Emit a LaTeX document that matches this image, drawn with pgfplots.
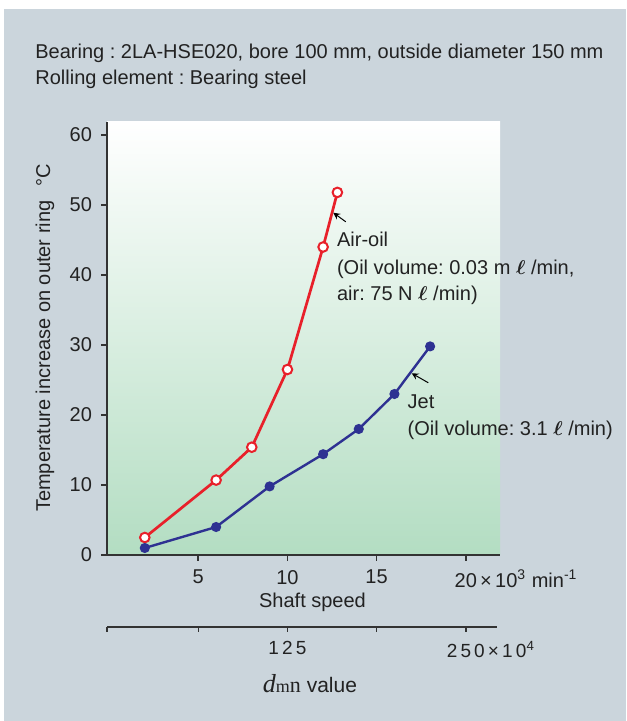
\documentclass[border=0pt]{standalone}
\usepackage{fontspec}
\setmainfont{Liberation Sans}
\newfontfamily\seriffont{Liberation Serif}
\usepackage{pgfplots}
\pgfplotsset{compat=1.18}
\definecolor{bggray}{HTML}{CBD5DC}
\definecolor{gradgreen}{HTML}{B3DDC2}
\definecolor{airred}{HTML}{E8202A}
\definecolor{jetblue}{HTML}{2E3192}
\definecolor{txt}{HTML}{222222}
\definecolor{axisgray}{HTML}{333333}
\frenchspacing
\begin{document}
\fontsize{10pt}{13pt}\selectfont
\begin{tikzpicture}
\path[fill=white] (0pt,0pt) rectangle (313pt,360.5pt);
\fill[bggray] (2pt,0pt) rectangle (313pt,356pt);
\node[anchor=base west, text=txt, inner sep=0pt] at (17.5pt,331pt) {Bearing : 2LA-HSE020, bore 100 mm, outside diameter 150 mm};
\node[anchor=base west, text=txt, inner sep=0pt] at (17.5pt,318pt) {Rolling element : Bearing steel};

\begin{axis}[at={(53.5pt,83pt)}, anchor=south west, scale only axis,
  width=196.5pt, height=216.65pt,
  xmin=-0.12, xmax=21.92, ymin=0, ymax=61.9,
  axis x line*=bottom, axis y line*=left,
  axis line style={-, draw=axisgray, line width=0.8pt},
  tick style={draw=axisgray, line width=0.8pt},
  tick align=outside, major tick length=3pt,
  xtick={5,10,15,20},
  xticklabels={5,10,15,{20\rlap{\,×\,10\textsuperscript{3} min\textsuperscript{-1}}}},
  xticklabel style={yshift=-1pt},
  ytick={0,10,20,30,40,50,60},
  yticklabels={0,10,20,30,40,50,60},
  yticklabel style={xshift=-1pt},
  axis background/.style={top color=white, bottom color=gradgreen},
  clip=false,
  tick label style={font=\fontsize{10pt}{12pt}\selectfont, text=txt},
  /pgf/number format/assume math mode=true]
\addplot[color=airred, line width=1.35pt, mark=*, mark size=2.4pt,
  mark options={fill=white, line width=1pt}]
  coordinates {(2,2.5)(6,10.7)(8,15.4)(10,26.5)(12,44.0)(12.8,51.8)};
\addplot[color=jetblue, line width=1.2pt, mark=*, mark size=1.9pt,
  mark options={fill=jetblue}]
  coordinates {(2,1.0)(6,4.0)(9,9.8)(12,14.4)(14,18.0)(16,23.0)(18,29.8)};
\draw[-stealth, black, line width=0.5pt] (axis cs:13.27,47.6) -- (axis cs:12.57,48.9);
\node[anchor=base west, inner sep=0pt, text=txt] at (axis cs:12.76,44.0) {Air-oil};
\node[anchor=base west, inner sep=0pt, text=txt] at (axis cs:12.76,40.14) {(Oil volume: 0.03 m {\boldmath$\ell$} /min,};
\node[anchor=base west, inner sep=0pt, text=txt] at (axis cs:12.76,36.29) {air: 75 N {\boldmath$\ell$} /min)};
\draw[-stealth, black, line width=0.5pt] (axis cs:17.9,24.6) -- (axis cs:16.97,25.96);
\node[anchor=base west, inner sep=0pt, text=txt] at (axis cs:16.72,20.86) {Jet};
\node[anchor=base west, inner sep=0pt, text=txt] at (axis cs:16.72,17.14) {(Oil volume: 3.1 {\boldmath$\ell$} /min)};
\end{axis}

\begin{axis}[at={(53.5pt,47pt)}, anchor=south west, scale only axis,
  width=195pt, height=5pt,
  xmin=-0.12, xmax=21.75, ymin=0, ymax=1,
  axis x line*=bottom, axis y line=none, ytick=\empty,
  axis line style={-, draw=axisgray, line width=0.8pt},
  tick style={draw=axisgray, line width=0.8pt},
  tick align=outside, major tick length=2.5pt,
  xtick={-0.12,5,10,15,20},
  xticklabels={,,{1\,2\,5},,{2\,5\,0\rlap{\,×\,1\,0\textsuperscript{4}}}},
  xticklabel style={yshift=-1pt},
  tick label style={font=\fontsize{9.5pt}{12pt}\selectfont, text=txt}]
\end{axis}

\node[rotate=90, text=txt] at (22.5pt,191.5pt) {Temperature increase on outer ring\hspace{7pt}°C};
\node[anchor=base, text=txt, inner sep=0pt] at (156.25pt,56.5pt) {Shaft speed};
\node[anchor=base, text=txt, inner sep=0pt] at (155pt,14pt) {\fontsize{10.5pt}{12pt}\selectfont{\seriffont\itshape\fontsize{13pt}{14pt}\selectfont d}{\seriffont\fontsize{9pt}{10pt}\selectfont m}{\seriffont\fontsize{11pt}{12pt}\selectfont n} value};
\end{tikzpicture}
\end{document}
